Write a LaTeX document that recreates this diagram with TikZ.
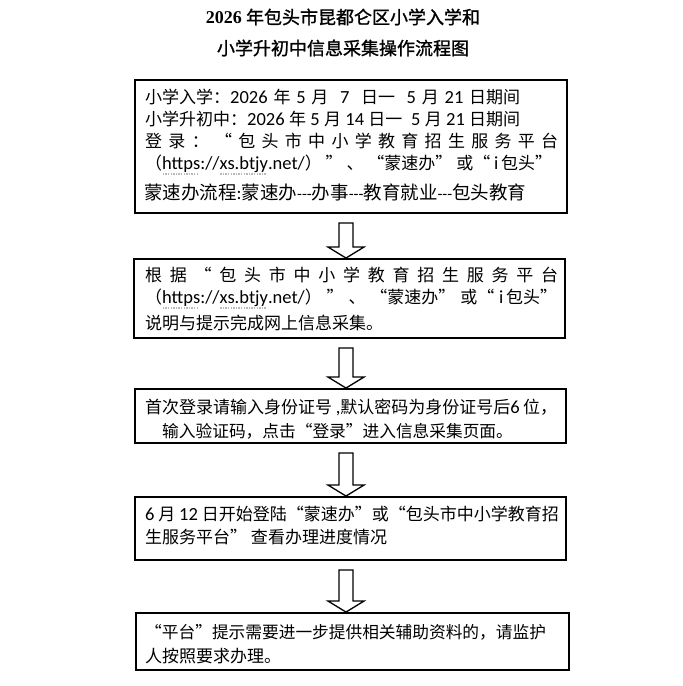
\documentclass[tikz,border=0pt]{standalone}
\usepackage{fontspec}
\setmainfont{Noto Sans CJK SC}
\newfontfamily\latf{Carlito}
\newfontfamily\titlecjk{Noto Sans CJK SC}[FakeBold=1.2]
\newfontfamily\titlelat{Liberation Serif}
\usetikzlibrary{calc}
\newcommand\lt[1]{{\latf\fontsize{18.5}{20}\selectfont #1}}
\newcommand\hy{{\latf\fontsize{16}{16}\selectfont -{}-{}-}}
\newcommand\dotul[1]{\setbox0\hbox{#1}\rlap{\raisebox{-5pt}{\textcolor{gray!55}{\hbox to \wd0{\leaders\hbox to 2.6pt{\hss\rule{1.3pt}{1.3pt}\hss}\hfill}}}}\box0}
\newcommand\url{\lt{\dotul{https}://\dotul{xs.btjy}.net/}}
\newcommand\flowarrow[2]{%
  \draw[arr] let \p1=(#1.south), \p2=(#2.north) in
    (339pt,{\y1-9pt}) -- (353pt,{\y1-9pt}) -- (353pt,{\y2+11pt}) -- (364pt,{\y2+11pt})
    -- (346pt,\y2) -- (328pt,{\y2+11pt}) -- (339pt,{\y2+11pt}) -- cycle;}
\tikzset{
  box/.style={draw=black, line width=1.9pt, rectangle, inner sep=0pt},
  txt/.style={anchor=west, inner sep=0pt, font=\fontsize{17}{20}\selectfont},
  ttl/.style={inner sep=0pt, font=\fontsize{18}{22}\selectfont\titlecjk},
  arr/.style={draw=black, line width=1.3pt, fill=white, line join=miter},
}
\begin{document}
\begin{tikzpicture}[x=1pt,y=1pt]
\useasboundingbox[fill=white] (0,0) rectangle (683,-686);
% title
\node[ttl] (t1) at (343,-17) {{\titlelat\bfseries 2026} 年包头市昆都仑区小学入学和};
\node[ttl] (t2) at (343,-48) {小学升初中信息采集操作流程图};
% boxes
\node[box, minimum width=432, minimum height=133] (b1) at (351,-146.5) {};
\node[box, minimum width=431, minimum height=79] (b2) at (349.5,-298.5) {};
\node[box, minimum width=431, minimum height=54] (b3) at (350.5,-416) {};
\node[box, minimum width=431, minimum height=63] (b4) at (350.5,-528.5) {};
\node[box, minimum width=433, minimum height=57] (b5) at (352.5,-641.5) {};
% box 1 text
\node[txt] (b1a) at (145,-97) {\makebox[375pt][s]{小学入学：\lt{2026} 年 \lt{5} 月\ \ \lt{7}\ \ 日一\ \ \lt{5} 月 \lt{21} 日期间}};
\node[txt] (b1b) at (145,-119) {\makebox[375pt][s]{小学升初中：\lt{2026} 年 \lt{5} 月 \lt{14} 日一\ \ \lt{5} 月 \lt{21} 日期间}};
\node[txt] (b1c) at (145,-141) {\makebox[413pt][s]{登\hfill 录\hfill ：\hfill “\hfill 包\hfill 头\hfill 市\hfill 中\hfill 小\hfill 学\hfill 教\hfill 育\hfill 招\hfill 生\hfill 服\hfill 务\hfill 平\hfill 台}};
\node[txt] (b1d) at (145,-165) {\makebox[407pt][s]{（\url）\hfill ”\hfill 、\hfill “蒙速办”\hfill 或“\hfill\lt{i}\,包头”}};
\node[txt, font=\fontsize{18.5}{20}\selectfont] (b1e) at (144,-192) {蒙速办流程\lt{:}蒙速办\hy 办事\hy 教育就业\hy 包头教育};
% box 2 text
\node[txt] (b2a) at (145,-275) {\makebox[413pt][s]{根\hfill 据\hfill “\hfill 包\hfill 头\hfill 市\hfill 中\hfill 小\hfill 学\hfill 教\hfill 育\hfill 招\hfill 生\hfill 服\hfill 务\hfill 平\hfill 台}};
\node[txt] (b2b) at (145,-299) {\makebox[412pt][s]{（\url）\hfill ”\hfill 、\hfill “蒙速办”\hfill 或“\hfill\lt{i}\,包头”}};
\node[txt] (b2c) at (145,-323) {说明与提示完成网上信息采集。};
% box 3 text
\node[txt] (b3a) at (145,-407) {\makebox[412pt][s]{首次登录请输入身份证号\lt{\ ,}默认密码为身份证号后\lt{6}\ 位，}};
\node[txt, font=\fontsize{16.7}{20}\selectfont] (b3b) at (162,-431) {输入验证码，点击“登录”进入信息采集页面。};
% box 4 text
\node[txt] (b4a) at (145,-514) {\lt{6} 月 \lt{12} 日开始登陆“蒙速办”或“包头市中小学教育招};
\node[txt] (b4b) at (145,-537) {生服务平台” 查看办理进度情况};
% box 5 text
\node[txt, font=\fontsize{16.7}{20}\selectfont] (b5a) at (145,-632) {“平台”提示需要进一步提供相关辅助资料的，请监护};
\node[txt] (b5b) at (145,-656) {人按照要求办理。};
% arrows
\flowarrow{b1}{b2}
\flowarrow{b2}{b3}
\flowarrow{b3}{b4}
\flowarrow{b4}{b5}
\end{tikzpicture}
\end{document}
